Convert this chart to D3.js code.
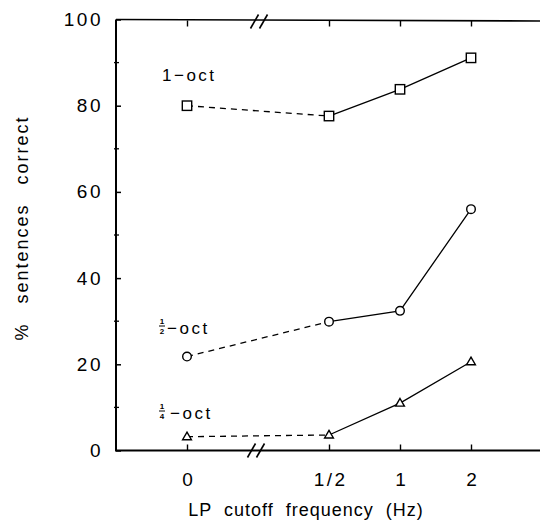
<!DOCTYPE html>
<html>
<head>
<meta charset="utf-8">
<script src="https://cdn.jsdelivr.net/npm/d3@7"></script>
<style>
  body { margin: 0; background: #fff; }
  text { font-family: "Liberation Sans", Arial, sans-serif; fill: #000; }
</style>
</head>
<body>
<svg id="chart" width="540" height="523"></svg>
<script>
// cutoff frequencies, placed on an octave axis; 0 Hz sits left of the axis break
var freqLabels = ["0", "1/2", "1", "2"];
var freqSlots = [-3, -1, 0, 1];

// % sentences correct, one array per band width
var oct1 = [80.0, 77.6, 83.8, 91.1];
var oct2 = [21.8, 29.9, 32.4, 56.0];
var oct4 = [3.2, 3.6, 11.0, 20.6];

var yTicks = [0, 20, 40, 60, 80, 100];
var yMinor = [10, 30, 50, 70, 90];

var svg = d3.select("#chart");

var x = d3.scaleLinear().domain([-4, 2]).range([116, 542]);
var y = d3.scaleLinear().domain([0, 100]).range([450.5, 19.5]);
var BREAK = -2;

// frame lines
svg.append("line").attr("x1", x(-4)).attr("x2", x(-4))
    .attr("y1", y(100)).attr("y2", y(0))
    .style("stroke", "#000").style("stroke-width", 2);
svg.append("line").attr("x1", x(-4)).attr("x2", 540)
    .attr("y1", y(100)).attr("y2", y(100) + 1.5)
    .style("stroke", "#000").style("stroke-width", 1.6);
svg.append("line").attr("x1", x(-4) - 1).attr("x2", 540)
    .attr("y1", y(0)).attr("y2", y(0))
    .style("stroke", "#000").style("stroke-width", 1.8);

// left axis
var yAxis = d3.axisLeft(y).tickValues(yTicks).tickSize(-5).tickPadding(13);
var gy = svg.append("g").attr("transform", "translate(" + x(-4) + ",0)").call(yAxis);
gy.select(".domain").remove();
gy.selectAll(".tick line").style("stroke-width", 1.5);
gy.selectAll("text").style("font-size", "19px").style("letter-spacing", "2.5px");

svg.selectAll(".minor").data(yMinor).enter().append("line")
    .attr("class", "minor")
    .attr("x1", x(-4) - 2).attr("x2", x(-4) + 3)
    .attr("y1", function(d){ return y(d) }).attr("y2", function(d){ return y(d) })
    .style("stroke", "#000").style("stroke-width", 1.3);

// bottom axis
var xAxis = d3.axisBottom(x).tickValues(freqSlots)
    .tickFormat(function(d, i){ return freqLabels[i] })
    .tickSize(-6).tickPadding(22);
var gx = svg.append("g").attr("transform", "translate(0," + y(0) + ")").call(xAxis);
gx.select(".domain").remove();
gx.selectAll(".tick line").style("stroke-width", 1.4);
gx.selectAll("text").style("font-size", "19px").style("letter-spacing", "2.5px")
    .attr("dx", "1.2px");

// top ticks
var xTop = d3.axisTop(x).tickValues(freqSlots).tickFormat("").tickSize(-6);
var gt = svg.append("g").attr("transform", "translate(0," + (y(100) + 1) + ")").call(xTop);
gt.select(".domain").remove();
gt.selectAll(".tick line").style("stroke-width", 1.4);

// axis breaks
function slashes(cx, cy) {
    [-4.5, 4.5].forEach(function(o){
        svg.append("line")
            .attr("x1", cx + o - 4).attr("y1", cy + 7)
            .attr("x2", cx + o + 4).attr("y2", cy - 7)
            .style("stroke", "#000").style("stroke-width", 1.6);
    });
}
slashes(x(BREAK) + 1, y(100) + 2);
slashes(x(BREAK) - 2, y(0));

// series
var series = [
    {vals: oct1, mark: "square"},
    {vals: oct2, mark: "circle"},
    {vals: oct4, mark: "triangle"}
];

var line = d3.line()
    .x(function(d){ return x(d[0]) })
    .y(function(d){ return y(d[1]) });

series.forEach(function(s){
    var pts = freqSlots.map(function(f, i){ return [f, s.vals[i]] });
    svg.append("path").attr("d", line(pts.slice(0, 2)))
        .style("fill", "none").style("stroke", "#000")
        .style("stroke-width", 1.3).style("stroke-dasharray", "6,5");
    svg.append("path").attr("d", line(pts.slice(1)))
        .style("fill", "none").style("stroke", "#000").style("stroke-width", 1.3);

    var g = svg.selectAll(".m" + s.mark).data(pts).enter().append("g")
        .attr("transform", function(d){ return "translate(" + x(d[0]) + "," + y(d[1]) + ")" });
    if (s.mark == "square") {
        g.append("rect").attr("x", -4.7).attr("y", -4.7).attr("width", 9.4).attr("height", 9.4);
    } else if (s.mark == "circle") {
        g.append("circle").attr("r", 4.3);
    } else {
        g.append("path").attr("d", "M0,-4.6L4.4,3L-4.4,3Z");
    }
    g.selectAll("*").style("fill", "#fff").style("stroke", "#000").style("stroke-width", 1.4);
});

// series labels
svg.append("text").attr("x", 162).attr("y", 81)
    .style("font-size", "17px").style("letter-spacing", "2.5px").text("1\u2212oct");

function fracLabel(num, den, fx, fy, tx) {
    svg.append("text").attr("x", fx).attr("y", fy - 2).attr("text-anchor", "middle")
        .style("font-size", "8px").style("font-weight", "bold").text(num);
    svg.append("line").attr("x1", fx - 3).attr("x2", fx + 3)
        .attr("y1", fy).attr("y2", fy).style("stroke", "#000").style("stroke-width", 1);
    svg.append("text").attr("x", fx).attr("y", fy + 8).attr("text-anchor", "middle")
        .style("font-size", "8px").style("font-weight", "bold").text(den);
    svg.append("text").attr("x", tx).attr("y", fy + 8)
        .style("font-size", "17px").style("letter-spacing", "2.5px").text("\u2212oct");
}
fracLabel("1", "2", 162, 326, 167);
fracLabel("1", "4", 162, 411, 170);

// axis titles
svg.append("text").attr("x", 306).attr("y", 516).attr("text-anchor", "middle")
    .style("font-size", "18px").style("letter-spacing", "1px").style("word-spacing", "6px")
    .text("LP cutoff frequency (Hz)");
svg.append("text").attr("transform", "translate(28,228) rotate(-90)")
    .attr("text-anchor", "middle")
    .style("font-size", "18px").style("letter-spacing", "2px").style("word-spacing", "12px")
    .text("% sentences correct");
</script>
</body>
</html>
